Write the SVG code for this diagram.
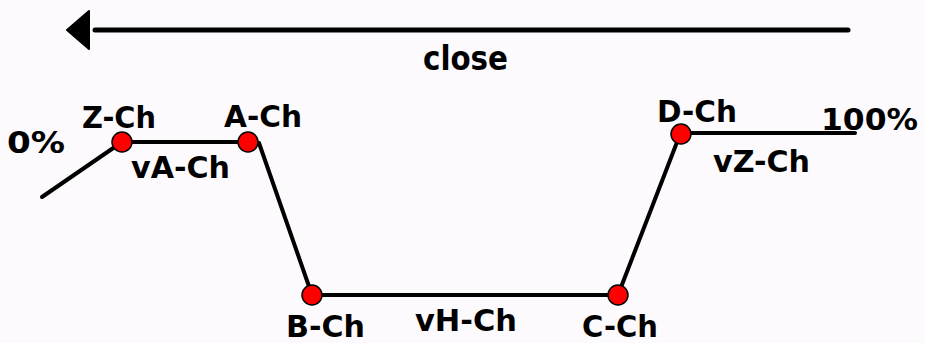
<svg xmlns="http://www.w3.org/2000/svg" width="925" height="343" viewBox="0 0 925 343">
<style>
.t{font-family:"DejaVu Sans","Verdana",sans-serif;font-weight:bold;font-size:31px;fill:#000}
.ln{stroke:#000;stroke-width:4;fill:none;stroke-linecap:round;stroke-linejoin:round}
.pt{fill:#ff0000;stroke:#000;stroke-width:1.5}
</style>
<rect width="925" height="343" fill="#fcfafc"/>
<g id="connectors">
<line class="ln" x1="848" y1="30" x2="95" y2="30" style="stroke-width:5"/>
<polygon points="67,30 89,11 89,49" fill="#000" stroke="#000" stroke-width="2" stroke-linejoin="round"/>
<polyline class="ln" points="42,197 122,142 248,142"/>
<polyline class="ln" points="259,143 312,295 618,295 679,137"/>
<line class="ln" x1="682" y1="133" x2="855" y2="133"/>
</g>
<g id="close"><text class="t" x="423" y="70" textLength="85" lengthAdjust="spacingAndGlyphs" style="font-size:33px">close</text></g>
<g id="p0"><text class="t" x="7" y="153" textLength="58" lengthAdjust="spacingAndGlyphs">0%</text></g>
<g id="p100"><text class="t" x="821" y="130" textLength="97" lengthAdjust="spacingAndGlyphs">100%</text></g>
<g id="Z-Ch"><circle class="pt" cx="122" cy="142" r="10"/><text class="t" x="82" y="128" textLength="74" lengthAdjust="spacingAndGlyphs">Z-Ch</text></g>
<g id="A-Ch"><circle class="pt" cx="248" cy="142" r="10"/><text class="t" x="224" y="127" textLength="78" lengthAdjust="spacingAndGlyphs">A-Ch</text></g>
<g id="vA-Ch"><text class="t" x="131" y="178" textLength="99" lengthAdjust="spacingAndGlyphs">vA-Ch</text></g>
<g id="B-Ch"><circle class="pt" cx="312" cy="295" r="10"/><text class="t" x="286" y="337" textLength="79" lengthAdjust="spacingAndGlyphs">B-Ch</text></g>
<g id="vH-Ch"><text class="t" x="415" y="331" textLength="102" lengthAdjust="spacingAndGlyphs">vH-Ch</text></g>
<g id="C-Ch"><circle class="pt" cx="618" cy="295" r="10"/><text class="t" x="582" y="337" textLength="76" lengthAdjust="spacingAndGlyphs">C-Ch</text></g>
<g id="D-Ch"><circle class="pt" cx="681" cy="134" r="10"/><text class="t" x="657" y="122" textLength="80" lengthAdjust="spacingAndGlyphs">D-Ch</text></g>
<g id="vZ-Ch"><text class="t" x="713" y="172" textLength="97" lengthAdjust="spacingAndGlyphs">vZ-Ch</text></g>
</svg>
